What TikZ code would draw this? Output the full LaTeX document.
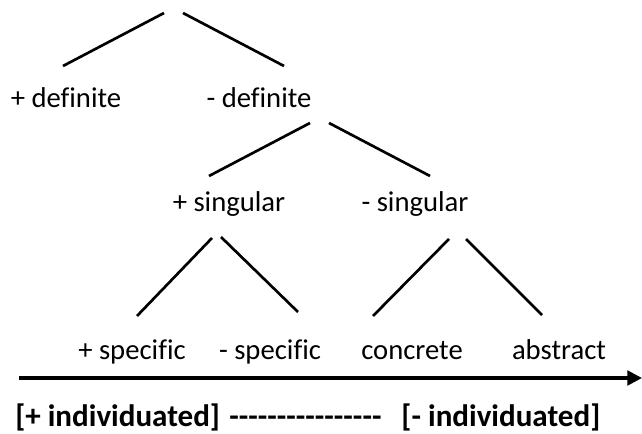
\documentclass[tikz,border=0pt]{standalone}
\usepackage{fontspec}
\setmainfont{Carlito}[Ligatures=NoCommon]
\usetikzlibrary{arrows.meta}
\newcommand{\hy}{-{}}
\begin{document}
\begin{tikzpicture}[x=0.75pt,y=-0.75pt,
  branch/.style={line width=2pt},
  feature/.style={anchor=base,inner sep=0pt,font=\fontsize{21.5}{26}\selectfont},
  scale label/.style={anchor=base west,inner sep=0pt,font=\fontsize{23.3}{28}\selectfont\bfseries},
  axis/.style={line width=2.3pt,-{Triangle[length=11pt,width=11pt]}}]
\useasboundingbox (0,0) rectangle (642,434);

% feature labels
\node[feature] (pdef) at (66,108) {+ definite};
\node[feature] (mdef) at (259,108) {- definite};
\node[feature] (psing) at (229,212) {+ singular};
\node[feature] (msing) at (415,212) {- singular};
\node[feature] (pspec) at (132,359) {+ specific};
\node[feature] (mspec) at (270,359) {- specific};
\node[feature] (conc) at (412,359) {concrete};
\node[feature] (abst) at (559,359) {abstract};
\node[scale label] (indiv) at (15,426)
  {[+ individuated]\hspace{7pt}\hy\hy\hy\hy\hy\hy\hy\hy\hy\hy\hy\hy\hy\hy\hy\hy\hspace{15pt}[- individuated]};

% branch end points
\coordinate (r0l) at (164,13);  \coordinate (r0r) at (183,13);
\coordinate (d1)  at (63,66);   \coordinate (d2)  at (284,66);
\coordinate (m0l) at (310,123); \coordinate (m0r) at (329,123);
\coordinate (s1)  at (209,176); \coordinate (s2)  at (430,176);
\coordinate (p0l) at (212,238); \coordinate (p0r) at (221,237);
\coordinate (c1)  at (137,316); \coordinate (c2)  at (298,312);
\coordinate (q0l) at (449,239); \coordinate (q0r) at (466,239);
\coordinate (c3)  at (373,316); \coordinate (c4)  at (542,315);

% tree branches
\draw[branch] (r0l) -- (d1);
\draw[branch] (r0r) -- (d2);
\draw[branch] (m0l) -- (s1);
\draw[branch] (m0r) -- (s2);
\draw[branch] (p0l) -- (c1);
\draw[branch] (p0r) -- (c2);
\draw[branch] (q0l) -- (c3);
\draw[branch] (q0r) -- (c4);

% individuation scale
\coordinate (axs) at (19,378);
\coordinate (axe) at (642,378);
\draw[axis] (axs) -- (axe);
\end{tikzpicture}
\end{document}
